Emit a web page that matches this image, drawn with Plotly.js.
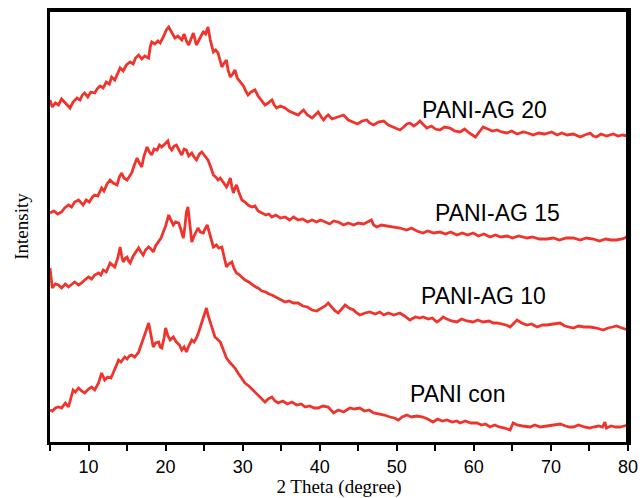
<!DOCTYPE html>
<html>
<head>
<meta charset="utf-8">
<script src="https://cdn.plot.ly/plotly-3.0.1.min.js"></script>
<style>
html,body{margin:0;padding:0;background:#fff;}
#wrap{position:relative;width:642px;height:498px;}
#chart{width:642px;height:498px;}
#frame{position:absolute;left:50px;top:10px;width:579px;height:432px;border-top:2px solid #000;border-right:3px solid #000;box-sizing:border-box;pointer-events:none;z-index:10;}
</style>
</head>
<body>
<div id="wrap"><div id="chart"></div><div id="frame"></div></div>
<script>
// 2 Theta (degree) and stacked intensity (arbitrary units)
const ag20X = [5.0,5.3,5.7,6.1,6.5,6.9,7.3,7.6,8.0,8.5,8.9,9.2,9.5,9.9,10.3,10.8,11.1,11.5,11.9,12.3,12.7,13.0,13.4,13.8,14.1,14.5,14.9,15.4,15.8,16.1,16.5,16.9,17.3,17.8,18.0,18.2,18.6,19.0,19.3,19.7,20.1,20.4,20.8,21.2,21.6,22.1,22.4,22.7,23.0,23.3,23.6,24.0,24.3,24.6,24.9,25.2,25.5,25.8,26.2,26.5,26.8,27.3,27.6,27.9,28.1,28.4,28.7,29.0,29.3,29.7,30.1,30.4,30.7,31.1,31.6,32.0,32.4,32.9,33.3,33.8,34.1,34.4,34.9,35.5,36.0,36.6,37.2,37.6,37.9,38.4,39.0,39.4,39.8,40.2,40.5,40.8,41.1,41.6,42.0,42.5,43.1,43.7,44.4,44.9,45.5,46.1,46.5,47.0,47.6,48.3,48.9,49.6,50.4,50.9,51.3,51.7,52.2,52.6,53.0,53.5,53.9,54.5,55.0,55.6,56.2,56.9,57.5,58.2,58.8,59.4,60.2,60.7,61.2,61.8,62.4,63.0,63.6,64.3,64.9,65.6,66.4,67.0,67.7,68.4,69.2,70.1,70.8,71.4,72.1,72.9,73.8,74.4,75.1,75.5,75.9,76.5,77.2,78.1,78.7,79.3,80.0];
const ag20Y = [342,335,339,337,343,340,337,334,340,344,342,347,349,345,350,349,353,356,354,360,358,365,362,369,374,371,377,380,378,384,387,383,386,384,395,400,398,401,399,405,412,415,409,404,406,402,408,401,397,404,409,397,402,406,410,408,415,402,390,392,389,375,379,382,372,365,368,372,364,360,356,351,347,350,352,346,342,337,339,342,337,334,336,334,331,329,327,330,332,327,324,327,330,325,322,325,327,323,324,326,327,322,320,318,321,322,319,317,320,321,317,315,312,315,318,319,316,318,321,317,314,316,313,312,315,314,311,310,313,309,305,310,315,313,311,312,310,309,311,308,310,309,307,309,308,310,307,309,307,308,305,307,309,306,305,308,306,308,306,307,306];

const ag15X = [5.0,5.5,6.0,6.5,6.9,7.4,7.8,8.2,8.7,9.0,9.3,9.7,10.1,10.5,10.8,11.2,11.7,12.0,12.4,12.8,13.2,13.7,14.0,14.3,14.6,15.0,15.3,15.6,15.9,16.3,16.6,16.9,17.2,17.6,17.9,18.2,18.5,18.9,19.2,19.5,19.9,20.3,20.5,20.8,21.1,21.4,21.8,22.1,22.4,22.7,23.0,23.4,23.7,24.0,24.4,24.7,25.1,25.5,25.9,26.2,26.5,26.8,27.1,27.5,27.9,28.1,28.4,28.6,28.8,29.0,29.2,29.5,29.9,30.3,30.7,31.2,31.6,32.0,32.5,33.0,33.4,33.8,34.3,34.9,35.5,36.1,36.6,37.2,37.8,38.4,39.0,39.6,40.1,40.7,41.3,41.8,42.4,43.1,43.7,44.4,45.0,45.7,46.2,46.7,47.0,47.4,48.0,48.8,49.6,50.4,51.3,51.9,52.6,53.4,54.0,54.8,55.6,56.3,57.0,57.8,58.5,59.2,59.9,60.6,61.3,62.1,62.8,63.5,64.3,65.0,65.8,66.9,67.6,68.5,69.5,70.3,71.1,72.0,72.9,73.8,74.6,75.5,76.3,77.1,77.8,78.5,79.2,79.6,80.0];
const ag15Y = [229,231,228,230,234,237,235,240,242,239,237,242,240,245,247,246,254,251,258,262,259,257,265,269,264,262,266,269,276,284,279,275,286,295,290,287,293,292,297,295,298,301,295,292,296,297,291,287,293,292,286,289,285,282,288,290,286,282,274,267,265,262,264,259,255,258,264,255,249,254,257,250,242,240,237,235,236,231,229,227,228,225,227,224,225,222,225,222,223,220,222,220,222,220,218,221,220,217,219,217,219,218,220,222,217,215,217,216,215,214,212,214,211,209,211,209,210,208,210,207,209,207,209,206,208,205,207,205,206,204,206,204,205,203,203,204,202,204,204,202,204,203,201,203,202,202,203,204,206];

const ag10X = [5.0,5.1,5.3,5.7,6.1,6.5,7.0,7.4,7.8,8.2,8.7,9.1,9.5,10.0,10.4,10.8,11.3,11.6,11.9,12.3,12.8,13.1,13.4,13.8,14.1,14.3,14.5,14.8,15.0,15.2,15.4,15.8,16.1,16.5,16.8,17.1,17.4,17.8,18.1,18.4,18.7,19.1,19.4,19.7,20.0,20.4,20.7,21.0,21.3,21.7,22.0,22.3,22.5,22.7,22.9,23.1,23.4,23.7,24.0,24.2,24.5,24.9,25.1,25.4,25.8,26.2,26.6,26.9,27.3,27.6,27.9,28.2,28.6,28.9,29.2,29.6,30.0,30.3,30.8,31.3,31.7,32.0,32.5,33.0,33.4,33.8,34.3,34.9,35.5,36.0,36.6,37.2,37.8,38.4,39.0,39.6,40.3,40.7,41.1,41.5,42.0,42.4,42.9,43.3,43.8,44.4,44.8,45.2,45.9,46.5,47.2,47.8,48.3,48.9,49.6,50.4,51.0,51.7,52.4,53.0,53.4,54.1,54.6,55.2,55.6,56.0,56.5,57.1,57.8,58.4,59.1,59.9,60.5,61.2,62.0,62.5,63.0,63.6,64.2,64.7,65.1,65.6,66.2,66.9,67.5,68.2,68.9,69.5,70.3,71.2,71.8,72.3,72.9,73.6,74.3,75.1,75.9,76.8,77.4,78.0,78.5,79.2,79.6,80.0];
const ag10Y = [174,165,154,158,157,154,158,155,158,160,157,159,162,165,163,167,169,167,172,170,179,177,175,184,195,186,180,184,185,181,179,186,190,194,190,187,192,195,193,190,196,200,204,210,216,227,221,217,220,219,212,204,215,230,235,222,200,206,211,214,210,209,213,217,206,195,197,194,195,185,175,178,180,173,169,167,164,162,160,157,155,154,151,150,148,147,145,143,140,141,139,139,136,135,132,131,134,136,139,135,131,129,133,137,134,132,129,127,129,130,128,130,127,129,127,129,126,122,125,124,125,123,124,120,122,125,123,121,120,123,121,120,122,120,121,119,119,118,117,115,118,122,119,117,118,115,117,117,118,119,116,115,114,116,115,115,114,112,114,115,116,114,113,112];

const conX = [5.0,5.3,5.7,6.1,6.5,7.0,7.4,7.7,8.0,8.3,8.7,9.1,9.5,10.0,10.4,10.8,11.3,11.7,12.1,12.5,12.9,13.2,13.5,13.9,14.2,14.7,15.0,15.3,15.6,16.0,16.5,16.8,17.1,17.5,17.8,18.1,18.4,18.7,19.1,19.3,19.5,19.8,20.0,20.3,20.6,21.0,21.4,21.8,22.1,22.4,22.7,23.0,23.4,23.7,24.0,24.3,24.7,25.0,25.3,25.5,25.8,26.1,26.4,26.7,27.1,27.5,27.9,28.4,29.0,29.4,29.8,30.3,30.8,31.2,31.6,32.1,32.5,32.9,33.3,33.8,34.2,34.6,35.2,35.8,36.4,37.0,37.6,38.1,38.7,39.3,39.8,40.4,41.1,41.8,42.4,43.1,43.5,43.9,44.5,45.2,45.8,46.4,47.0,47.6,48.4,49.1,49.7,50.2,50.7,51.3,51.9,52.6,53.4,54.0,54.7,55.3,55.9,56.5,57.2,57.8,58.2,58.9,59.6,60.4,61.0,61.5,62.1,62.7,63.3,64.0,64.7,65.1,65.6,66.3,67.3,67.9,68.6,69.5,70.2,71.2,71.9,72.4,72.9,73.6,74.3,75.0,75.5,76.2,76.7,77.0,77.2,77.8,78.4,79.0,79.5,80.0];
const conY = [32,31,34,35,34,39,35,44,52,50,54,51,49,53,55,52,59,69,62,65,64,69,74,82,80,85,83,86,87,85,90,96,104,112,119,107,95,99,100,95,94,104,114,106,102,105,100,97,92,95,90,96,102,100,104,110,120,127,134,127,120,111,105,103,100,92,84,79,74,69,64,59,56,53,50,46,44,40,43,45,41,39,41,38,40,37,38,35,36,34,34,36,35,29,32,30,32,34,33,34,31,32,29,28,27,25,24,22,25,27,25,26,25,23,20,23,21,22,20,21,19,21,19,19,17,18,15,17,15,14,12,19,17,16,15,17,15,16,17,18,16,15,15,17,15,14,15,16,15,20,14,16,15,15,16,17];

const seriesNames = ["PANI-AG 20","PANI-AG 15","PANI-AG 10","PANI con"];
const labelX = [61.4, 63.1, 61.3, 57.9];
const labelY = [332, 229, 146, 48];
const xTickVals = [5,10,15,20,25,30,35,40,45,50,55,60,65,70,75,80];
const xTickText = ["","10","","20","","30","","40","","50","","60","","70","","80"];

const xs = [ag20X, ag15X, ag10X, conX];
const ys = [ag20Y, ag15Y, ag10Y, conY];
// the top series uses the right-hand y axis and the bottom one the top x axis (same ranges), so the frame is drawn by the axes
const xRefs = ["x", "x", "x", "x2"];
const yRefs = ["y2", "y", "y", "y"];
const red = "rgb(238,52,44)";

const traces = xs.map((x, i) => ({
  x: x, y: ys[i], xaxis: xRefs[i], yaxis: yRefs[i], type: "scatter", mode: "lines", name: seriesNames[i],
  line: {color: red, width: 2.8}, showlegend: false, hoverinfo: "skip"
}));

const annotations = seriesNames.map((t, i) => ({
  x: labelX[i], y: labelY[i], xref: "x", yref: "y", text: t, showarrow: false,
  xanchor: "center", yanchor: "middle",
  font: {family: "Liberation Sans, Arial, sans-serif", size: 23, color: "#000"}
}));

const layout = {
  width: 642, height: 498,
  margin: {l: 50, r: 14, t: 11, b: 56},
  paper_bgcolor: "#fff", plot_bgcolor: "#fff",
  xaxis: {
    range: [5, 80], tickvals: xTickVals, ticktext: xTickText,
    ticks: "outside", ticklen: 6, tickwidth: 2, tickcolor: "#000",
    showline: true, mirror: true, linewidth: 3, linecolor: "#000", showgrid: false, zeroline: false,
    tickfont: {family: "Liberation Sans, Arial, sans-serif", size: 18, color: "#000"},
    title: {text: "2 Theta (degree)", standoff: 4, font: {family: "Liberation Serif, Times New Roman, serif", size: 19, color: "#000"}}
  },
  xaxis2: {
    range: [5, 80], overlaying: "x", side: "top", anchor: "y",
    showline: true, linewidth: 2, linecolor: "#000", showticklabels: false, ticks: "", showgrid: false, zeroline: false
  },
  yaxis: {
    range: [0, 431], showticklabels: false, ticks: "", showgrid: false, zeroline: false,
    showline: true, mirror: true, linewidth: 3, linecolor: "#000",
    title: {text: "Intensity", standoff: 14, font: {family: "Liberation Serif, Times New Roman, serif", size: 19, color: "#000"}}
  },
  yaxis2: {
    range: [0, 431], overlaying: "y", side: "right", anchor: "x",
    showline: true, linewidth: 3, linecolor: "#000", showticklabels: false, ticks: "", showgrid: false, zeroline: false
  },
  annotations: annotations
};

Plotly.newPlot("chart", traces, layout, {displayModeBar: false, staticPlot: true});
</script>
</body>
</html>
